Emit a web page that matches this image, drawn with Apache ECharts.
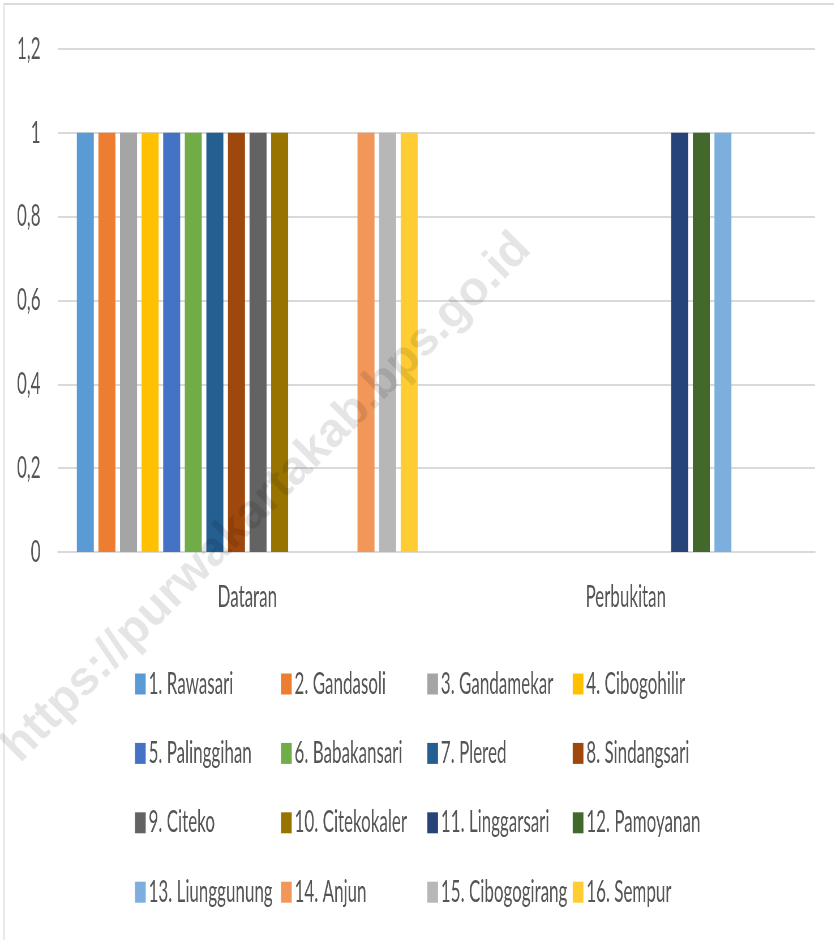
<!DOCTYPE html>
<html>
<head>
<meta charset="utf-8">
<script src="https://cdn.jsdelivr.net/npm/echarts@6/dist/echarts.min.js"></script>
<style>
html,body{margin:0;padding:0;background:#fff;overflow:hidden;}
#wrap{position:relative;width:834px;height:940px;overflow:hidden;background:#fff;}
#chart{position:absolute;left:0;top:0;height:940px;transform-origin:0 0;}
#mark{position:absolute;left:0;top:0;width:834px;height:940px;pointer-events:none;}
</style>
</head>
<body>
<div id="wrap"><div id="chart"></div><div id="mark"></div></div>
<script>
// ---- data ----
const categories = ['Dataran', 'Perbukitan'];
const villages = [
  '1. Rawasari', '2. Gandasoli', '3. Gandamekar', '4. Cibogohilir',
  '5. Palinggihan', '6. Babakansari', '7. Plered', '8. Sindangsari',
  '9. Citeko', '10. Citekokaler', '11. Linggarsari', '12. Pamoyanan',
  '13. Liunggunung', '14. Anjun', '15. Cibogogirang', '16. Sempur'
];
const dataranValues    = [1, 1, 1, 1, 1, 1, 1, 1, 1, 1, 0, 0, 0, 1, 1, 1];
const perbukitanValues = [0, 0, 0, 0, 0, 0, 0, 0, 0, 0, 1, 1, 1, 0, 0, 0];
const yMin = 0, yMax = 1.2, yInterval = 0.2;
const watermarkText = 'https://purwakartakab.bps.go.id';

// ---- style ----
const colors = ['#5B9BD5', '#ED7D31', '#A5A5A5', '#FFC000', '#4472C4', '#70AD47', '#255E91', '#9E480E',
                '#636363', '#997300', '#264478', '#43682B', '#7CAFDD', '#F1975A', '#B7B7B7', '#FFCD33'];
const S = 0.566;                // horizontal squeeze of the whole chart
const W = 834 / S;
const sx = v => v / S;
const FONT = 'Lato, "Open Sans", sans-serif';
const TXT = '#555555';
const GRID_C = '#d9d9d9';

const chartDom = document.getElementById('chart');
chartDom.style.width = W + 'px';
chartDom.style.transform = 'scaleX(' + S + ')';

const chart = echarts.init(chartDom, null, { renderer: 'canvas', width: W, height: 940 });

const legendCols = [[0, 4, 8, 12], [1, 5, 9, 13], [2, 6, 10, 14], [3, 7, 11, 15]];
const legendLeft = [135, 281, 427.3, 572.7];

const option = {
  animation: false,
  backgroundColor: '#ffffff',
  grid: { left: sx(58), right: W - sx(815), top: 49, bottom: 388, containLabel: false, outerBoundsMode: 'none' },
  xAxis: {
    type: 'category',
    data: categories,
    axisLine: { show: true, lineStyle: { color: GRID_C, width: 2 } },
    axisTick: { show: false },
    axisLabel: { color: TXT, fontFamily: FONT, fontSize: 30, margin: 30 }
  },
  yAxis: {
    type: 'value',
    min: yMin, max: yMax, interval: yInterval,
    axisLine: { show: false },
    axisTick: { show: false },
    splitLine: { lineStyle: { color: GRID_C, width: 2 } },
    axisLabel: {
      color: TXT, fontFamily: FONT, fontSize: 30, margin: sx(17.5),
      formatter: v => String(+v.toFixed(1)).replace('.', ',')
    }
  },
  legend: legendCols.map((col, c) => ({
    orient: 'vertical',
    left: sx(legendLeft[c]),
    top: 669,
    padding: 0,
    itemGap: 39.4,
    itemWidth: sx(10.7),
    itemHeight: 21,
    icon: 'rect',
    selectedMode: false,
    data: col.map(i => villages[i]),
    textStyle: { fontFamily: FONT, fontSize: 30, color: TXT, lineHeight: 30 }
  })),
  graphic: [{
    type: 'rect', silent: true, z: -10,
    shape: { x: sx(4), y: 4, width: W + 50, height: 1000 },
    style: { fill: 'none', stroke: '#dcdcdc', lineWidth: 2 }
  }],
  series: villages.map((name, i) => ({
    name: name,
    type: 'bar',
    data: [dataranValues[i], perbukitanValues[i]],
    barWidth: sx(17),
    barGap: '27%',
    itemStyle: { color: colors[i] }
  }))
};
chart.setOption(option);

// watermark overlay (not squeezed)
const mark = echarts.init(document.getElementById('mark'), null, { renderer: 'canvas', width: 834, height: 940 });
mark.setOption({
  backgroundColor: 'transparent',
  animation: false,
  graphic: [{
    type: 'text', silent: true,
    x: 267, y: 498,
    rotation: Math.PI / 4,
    style: {
      text: watermarkText,
      font: 'bold 48px "Liberation Sans", Arial, sans-serif',
      fill: 'rgba(0,0,0,0.1)',
      align: 'center', verticalAlign: 'middle',
      textAlign: 'center', textVerticalAlign: 'middle'
    }
  }]
});
</script>
</body>
</html>
